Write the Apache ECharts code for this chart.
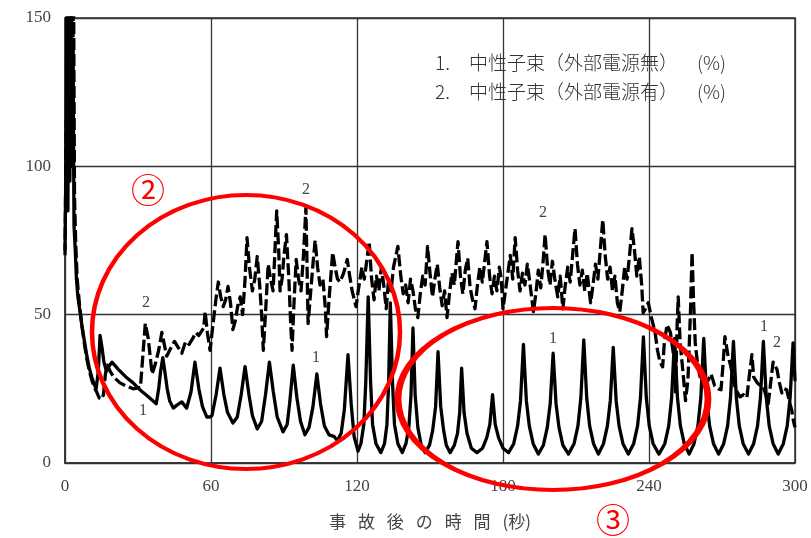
<!DOCTYPE html>
<html><head><meta charset="utf-8">
<script src="https://cdn.jsdelivr.net/npm/echarts@6/dist/echarts.min.js"></script>
<style>html,body{margin:0;padding:0;background:#fff}#c{width:811px;height:538px}</style>
</head><body><div id="c"></div>
<script>
// Axis ticks
const xTicks = [0, 60, 120, 180, 240, 300];
const yTicks = [0, 50, 100, 150];

// Series 1: 中性子束（外部電源無） [time s, %]
const fluxNoPower = [
[0,72],[0.5,110],[0.8,160],[1.2,85],[1.6,160],[2,95],[2.4,160],[2.8,100],[3.3,140],[3.7,80],[4.2,72],[4.7,62],[5.3,56],[6,52],[7,46],[8,41],[9,36],[10,32],[11,29],[12,26.5],[12.8,25],
[13.7,31],[14.4,43],[15.2,39],[16,34],[17,31],[18,32.5],[19.3,34],[22,31.5],[25,29],[28,27],[31,24.5],[34,22.5],[37.5,20],[38.5,25],[39.3,31],[40.2,35.5],[41,31],[42,25],[43,21],[44.5,18.5],[46,19.5],[48,20.6],
[50,18.5],[51.8,24],[53.4,34],[55,25],[56.5,19],[58.3,15.5],[59.5,15.5],[60.4,16],[62.1,23],[63.7,32],[65.3,23],[66.8,17],[69,13.5],[70.8,15.5],[72.4,23],[74,32.5],[75.6,23],[77,16],[79,11.5],[80.8,14],[82.4,23],[84,34],[85.6,24],[87.2,15.5],[89.6,10.5],[91.3,13],[92.3,20],[93.8,33],[95.3,22],[96.8,14],[98.6,9.5],[100.3,12],[101.9,19],[103.5,30],[105,20],[106.6,12.5],[108.5,9.5],[110.5,9],[112,7.5],[113.5,10],[114.8,18],[116.3,36.5],[117.6,20],[118.8,9],
[120.4,4],[121.6,6.5],[122.8,13],[123.6,27],[124.6,56],[125.6,27],[126.4,13],[127.8,6.5],[129.8,3.5],[131.3,6.5],[132.3,13],[133,27],[133.7,54],[134.6,27],[135.4,13],[136.8,6.5],[138.6,3.5],[140.1,6.5],[141.3,12],[142.2,23],[143,45.5],[143.9,23],[145,12],[146.4,6],[148,3.5],[149.8,6],[151.1,11],[152.3,19],[153.3,37.5],[154.4,19],[155.6,11],[156.7,6],[158.3,3.5],[160,6],[161.3,10],[162.2,17],[163,32],[164,17],[165.2,10],[167,5],[169.3,3.5],[171.6,5],[173.3,8.5],[174.6,13],[175.7,23],[176.8,13],[178.2,8.5],[180,5],[182.3,3.5],
[184.4,6.5],[186,12.5],[187.2,21],[188.4,40],[189.6,21],[190.8,12.5],[192.4,6.5],[194.5,3],
[196.6,6],[198.2,12],[199.4,20],[200.6,37],[201.8,20],[203,12],[204.6,6],[206.9,3],
[209.2,6.5],[210.8,12.5],[212,22],[213.2,41.5],[214.4,22],[215.6,12.5],[217.2,6.5],[219.2,3],
[221.3,6.5],[222.9,12.5],[224.1,21],[225.3,39],[226.5,21],[227.7,12.5],[229.3,6.5],[231.5,3],
[233.7,6.5],[235.3,12.5],[236.5,22],[237.7,42.5],[238.9,22],[240.1,12.5],[241.7,6.5],[244.1,3],
[246.5,6.5],[248.1,12.5],[249.3,22],[250.5,42],[251.7,22],[252.9,12.5],[254.5,6.5],[256.5,3],
[258.5,6.5],[260.1,12.5],[261.3,22],[262.5,42],[263.7,22],[264.9,12.5],[266.5,6.5],[268.6,3],
[270.7,6.5],[272.3,12.5],[273.5,22],[274.7,41],[275.9,22],[277.1,12.5],[278.7,6.5],[280.9,3],
[283,6.5],[284.6,12.5],[285.8,22],[287,41],[288.2,22],[289.4,12.5],[291,6.5],[293.1,3],
[295.2,6.5],[296.8,12.5],[298,22],[299.2,40.5],[300,28]
];

// Series 2: 中性子束（外部電源有） [time s, %]
const fluxWithPower = [
[0,70],[0.5,115],[1,95],[1.5,150],[2,100],[2.6,165],[3,110],[3.5,165],[3.9,90],[4.4,74],[5,62],[6,53],[7,46],[8,40],[9,35],[10,31],[11,28],[12,25.5],[13,24],[14,22],[15,21.5],[15.8,23],[16.6,30],[17.5,33],[18.5,31],[20,29],[22.6,27],[25,26],[28,25],[31,25.5],[31.6,32],[33,47],[34.2,42],[35,36],[35.8,30],[37,33],[38.5,38],[39.8,44],[40.8,40],[41.8,36],[43,38],[45,41],[46.5,39],[48,37],[49.6,41],[51,40],[52.5,42],[53.7,44],[55,43],[57,45.5],[57.6,51],[58.5,44],[59.6,38],
[61,48],[62,55],[63,61],[64,56],[65,52.7],[66,55],[67,59.5],[68,54],[69,45],[70,48],[71,53],[72,56],[73,50],[74,62],[74.8,76],[75.8,66],[77,58],[78,62],[79,69.6],[80,60],[80.8,50],[81.5,38],[82.5,52],[83.5,67],[84.5,62],[85.5,58],[86.2,70],[87,85],[87.8,72],[88.4,58],[89.2,62],[90,70],[91,77],[92,62],[92.7,48],[93.3,38],[94,52],[95,68.6],[96,62],[97,58],[98,70],[99,86],[99.5,65],[99.9,47],[101,58],[102,68],[102.8,75],[103.8,66],[104.8,60],[106,62],[107,52],[107.5,42.6],[108.5,55],[110,71],[111,66],[112,62],[113,61],[114.5,64],[116,68.6],[117,63],[118,58],[119.6,52.7],
[120.5,58],[122,66],[123,62],[124,68],[125,74.6],[126,62],[127,55],[128,63],[129,58],[130,66],[131,60],[132,52],[133,62],[134,58],[135,66],[136.8,73],[138,63],[139,57],[140,60],[141,54],[142,62],[143,58],[144,52],[145,49],[146,57],[147,63],[148,60],[149,73],[150,64],[151,56],[152,62],[153,67],[154,59],[155,53],[156,58],[157,49],[158,57],[159,64],[160,60],[161.5,74.6],[162.5,63],[163.5,57],[164.5,65],[165.5,69],[166.5,59],[167.5,55],[168.5,52],[169.5,60],[170.5,66],[171.5,61],[172.5,68],[173.4,74.6],[174.5,63],[175.5,57],[176.5,63],[177.5,58],[178.5,66],[179.3,62],
[180,52],[181,58],[182,64],[183,70],[184,62],[185,76],[186,65],[187,58],[188,64],[189,60],[190,67],[191,61],[192.5,51],[193.5,57],[194.5,65],[195.5,59],[196.5,68],[197.3,77],[198.3,66],[199.3,60],[200.3,68],[201.3,62],[202.5,56],[203.5,63],[204.6,52],[205.6,60],[206.6,66],[207.6,61],[208.6,70],[209.6,79],[210.6,67],[211.6,60],[212.6,65],[213.6,58],[214.6,64],[216,54],[217,60],[218,67],[219,62],[220,72],[221,82],[222,70],[223,62],[224,66],[225,58],[226,63],[227,54],[228,51],[229,58],[230,66],[231,62],[232,70],[233,79],[234,72],[235,63],[236,69.6],[237,60],[237.6,50.7],[238.6,52],[239.7,54],
[241,49],[242.5,44],[243.5,38],[244.5,34],[245.6,32.4],[246.3,40.5],[247.4,46.6],[248.8,44],[250,37],[250.9,24],[251.5,45],[252,56],[252.8,40.5],[254,30.4],[255,21],[256,28],[257,50],[257.7,71],[258.3,55],[259,40.5],[260,33],[261,29],[262.5,27],[263.8,27],[265.5,30],[267,26],[268.5,25],[269.6,24.7],[270.5,34],[271.2,42.6],[272.5,36],[273.5,33],[274.5,29],[275.5,25],[277.4,22.3],[278.8,23],[280.2,22],[281.3,30],[282.3,36.5],[283,29],[284.5,27],[285.8,26],[287,25.7],[288,23],[289,20],[290,27],[291,34],[292.6,31.5],[293.6,27],[294.6,23.6],[295.6,25],[296.6,24.7],[297.6,21],[298.6,18],[299.4,14],[300,12]
];

const legendLines = ['1.　中性子束（外部電源無）\u2002\u2002(%)', '2.　中性子束（外部電源有）\u2002\u2002(%)'];
const xAxisTitle = '事\u2002\u2009故\u2002\u2009後\u2002\u2009の\u2002\u2009時\u2002\u2009間\u2002\u2009(秒)';
const curveTags = ['2', '1', '2', '1', '2', '1', '1', '2'];
const zoneMarks = ['②', '③'];

const chart = echarts.init(document.getElementById('c'), null, {renderer: 'canvas'});
const serif = '"Liberation Serif", "DejaVu Serif", serif';
const cjk = '"Noto Sans CJK JP", sans-serif';
const tagPos = [[146,303],[143,411],[306,190],[316,358],[543,213],[553,339],[764,327],[777,343]];

const graphics = [];
legendLines.forEach((t, i) => graphics.push({
  type: 'text', left: 435, top: 53 + i * 29, z: 50,
  style: {text: t, font: '300 19px ' + cjk, fill: '#333'}
}));
curveTags.forEach((t, i) => graphics.push({
  type: 'text', x: tagPos[i][0], y: tagPos[i][1], z: 50,
  style: {text: t, font: '16px ' + serif, fill: '#444', align: 'center', verticalAlign: 'middle'}
}));
graphics.push({type: 'circle', x: 246, y: 332, scaleX: 154 / 137, z: 60,
  shape: {cx: 0, cy: 0, r: 137},
  style: {fill: null, stroke: '#ff0000', lineWidth: 4, strokeNoScale: true}});
graphics.push({type: 'circle', x: 553, y: 399, scaleX: 155 / 91, z: 60,
  shape: {cx: 0, cy: 0, r: 91},
  style: {fill: null, stroke: '#ff0000', lineWidth: 4, strokeNoScale: true}});
graphics.push({type: 'text', x: 148, y: 190, z: 60,
  style: {text: zoneMarks[0], font: '34px ' + cjk, fill: '#ff0000', align: 'center', verticalAlign: 'middle'}});
graphics.push({type: 'text', x: 613, y: 520, z: 60,
  style: {text: zoneMarks[1], font: '34px ' + cjk, fill: '#ff0000', align: 'center', verticalAlign: 'middle'}});

chart.setOption({
  animation: false,
  backgroundColor: '#fff',
  grid: {left: 65, right: 16, top: 18, bottom: 75, show: true, borderColor: '#333', borderWidth: 1.5, containLabel: false},
  xAxis: {
    type: 'value', min: xTicks[0], max: xTicks[xTicks.length - 1], interval: 60,
    name: xAxisTitle, nameLocation: 'middle', nameGap: 50,
    nameTextStyle: {fontFamily: cjk, fontSize: 17, color: '#444'},
    axisLine: {show: true, lineStyle: {color: '#333', width: 1.5}},
    axisTick: {show: false},
    axisLabel: {fontFamily: serif, fontSize: 17, color: '#444', margin: 15},
    splitLine: {show: true, lineStyle: {color: '#333', width: 1.3}}
  },
  yAxis: {
    type: 'value', min: yTicks[0], max: yTicks[yTicks.length - 1], interval: 50,
    axisLine: {show: true, lineStyle: {color: '#333', width: 1.5}},
    axisTick: {show: false},
    axisLabel: {fontFamily: serif, fontSize: 17, color: '#444', margin: 14},
    splitLine: {show: true, lineStyle: {color: '#333', width: 1.3}}
  },
  series: [
    {type: 'line', name: legendLines[0], data: fluxNoPower, showSymbol: false, symbol: 'none', clip: true,
     lineStyle: {color: '#000', width: 3.3, join: 'round', cap: 'round'}, z: 3},
    {type: 'line', name: legendLines[1], data: fluxWithPower, showSymbol: false, symbol: 'none', clip: true,
     lineStyle: {color: '#000', width: 3.3, type: [12, 4], join: 'round'}, z: 4}
  ],
  graphic: graphics
});
</script></body></html>
